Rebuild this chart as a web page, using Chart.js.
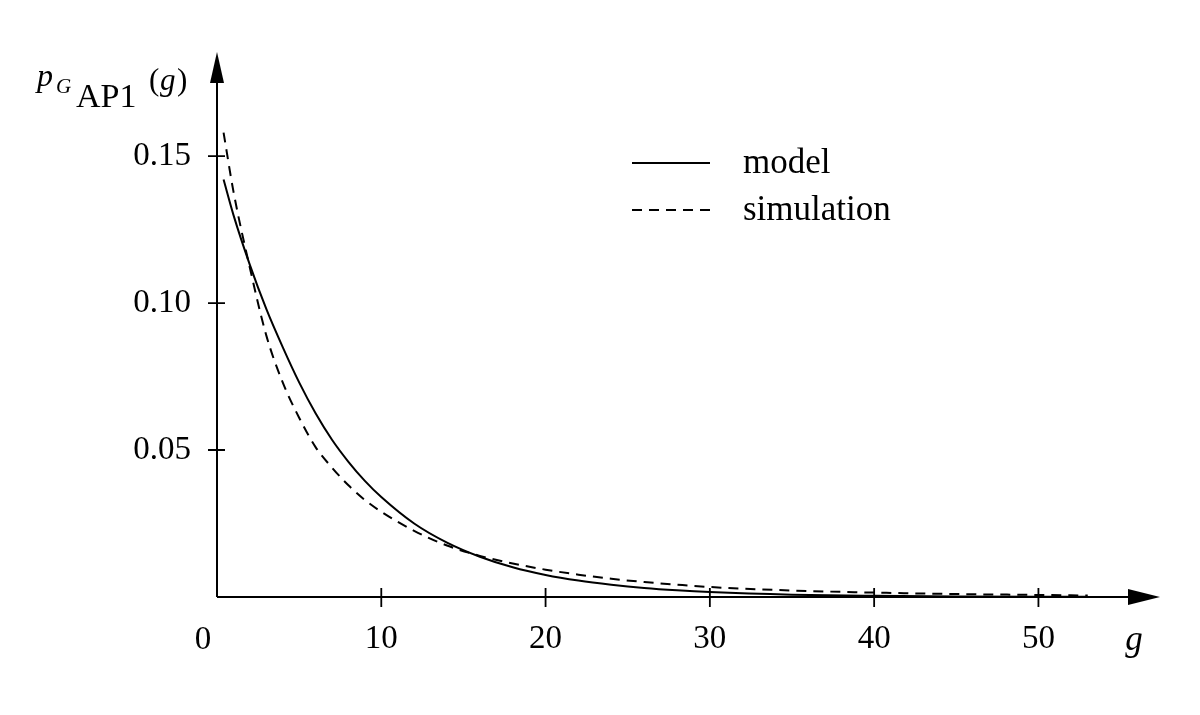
<!DOCTYPE html>
<html>
<head>
<meta charset="utf-8">
<script src="https://cdn.jsdelivr.net/npm/chart.js@4/dist/chart.umd.min.js"></script>
<style>
  html, body { margin: 0; padding: 0; background: #fff; }
  #wrap { width: 1200px; height: 715px; }
</style>
</head>
<body>
<div id="wrap"><canvas id="gapChart"></canvas></div>
<script>
// values
const gValues = [0.4, 1, 2, 3, 4, 5, 6, 7, 8, 9, 10, 12, 14, 16, 18, 20, 22, 24, 26, 28, 30, 35, 40, 45, 50, 53];
const modelValues = [0.142, 0.130, 0.113, 0.098, 0.085, 0.073, 0.0625, 0.0535, 0.046, 0.0395, 0.034, 0.025, 0.0185, 0.0137, 0.0101, 0.0075,
  0.0056, 0.0042, 0.0031, 0.0023, 0.0017, 0.0008, 0.0004, 0.0002, 0.0001, 0.0001];
const simValues = [0.158, 0.138, 0.112, 0.089, 0.073, 0.061, 0.051, 0.044, 0.038, 0.033, 0.029, 0.0225, 0.0175, 0.014, 0.0114, 0.0093,
  0.0076, 0.0062, 0.0051, 0.0042, 0.0034, 0.0022, 0.0015, 0.001, 0.0007, 0.0005];
const seriesNames = ['model', 'simulation'];
const xTickLabels = ['10', '20', '30', '40', '50'];
const yTickLabels = ['0.05', '0.10', '0.15'];

const SERIF = "'Liberation Serif', 'DejaVu Serif', serif";

function toPoints(ys) {
  return gValues.map((g, i) => ({ x: g, y: ys[i] }));
}

// axes with arrows, crossing ticks, legend and the math-style labels
const axesPlugin = {
  id: 'axesPlugin',
  afterDraw(chart) {
    const c = chart.ctx;
    const a = chart.chartArea;
    const xs = chart.scales.x, ys = chart.scales.y;
    const x0 = xs.getPixelForValue(0), y0 = ys.getPixelForValue(0);
    c.save();
    c.strokeStyle = '#000';
    c.fillStyle = '#000';
    c.lineWidth = 2;
    c.setLineDash([]);

    // axis lines
    c.beginPath();
    c.moveTo(x0, y0); c.lineTo(a.right - 30, y0);
    c.moveTo(x0, y0); c.lineTo(x0, a.top + 30);
    c.stroke();
    // arrow heads
    c.beginPath();
    c.moveTo(a.right, y0); c.lineTo(a.right - 32, y0 - 8); c.lineTo(a.right - 32, y0 + 8); c.closePath();
    c.fill();
    c.beginPath();
    c.moveTo(x0, a.top); c.lineTo(x0 - 7, a.top + 31); c.lineTo(x0 + 7, a.top + 31); c.closePath();
    c.fill();

    // crossing tick marks
    c.lineWidth = 1.8;
    c.beginPath();
    xTickLabels.forEach(t => {
      const px = xs.getPixelForValue(parseFloat(t));
      c.moveTo(px, y0 - 9); c.lineTo(px, y0 + 10);
    });
    yTickLabels.forEach(t => {
      const py = ys.getPixelForValue(parseFloat(t));
      c.moveTo(x0 - 9, py); c.lineTo(x0 + 8, py);
    });
    c.stroke();

    // origin label and x-axis name
    c.font = '33px ' + SERIF;
    c.textAlign = 'center';
    c.textBaseline = 'alphabetic';
    c.fillText('0', x0 - 14, 649);
    c.font = 'italic 35px ' + SERIF;
    c.fillText('g', 1134, 650);

    // y-axis name: p_{G_{AP1}}(g)
    c.textAlign = 'left';
    c.font = 'italic 32px ' + SERIF;
    c.fillText('p', 37, 86);
    c.font = 'italic 21px ' + SERIF;
    c.fillText('G', 56, 93);
    c.font = '34px ' + SERIF;
    c.fillText('AP1', 76, 107);
    c.font = '31px ' + SERIF;
    c.fillText('(', 149, 90);
    c.font = 'italic 31px ' + SERIF;
    c.fillText('g', 160, 90);
    c.font = '31px ' + SERIF;
    c.fillText(')', 177, 90);

    // legend
    const legendY = [163, 210];
    chart.data.datasets.forEach((ds, i) => {
      c.lineWidth = 2;
      c.setLineDash(ds.borderDash || []);
      c.beginPath();
      c.moveTo(632, legendY[i]); c.lineTo(710, legendY[i]);
      c.stroke();
      c.setLineDash([]);
      c.font = '35px ' + SERIF;
      c.textAlign = 'left';
      c.textBaseline = 'alphabetic';
      c.fillText(ds.label, 743, legendY[i] + 10);
    });
    c.restore();
  }
};

new Chart(document.getElementById('gapChart'), {
  type: 'scatter',
  data: {
    datasets: [
      {
        label: seriesNames[0],
        data: toPoints(modelValues),
        showLine: true,
        borderColor: '#000',
        borderWidth: 2,
        pointRadius: 0,
        cubicInterpolationMode: 'monotone'
      },
      {
        label: seriesNames[1],
        data: toPoints(simValues),
        showLine: true,
        borderColor: '#000',
        borderWidth: 2,
        borderDash: [10, 7],
        pointRadius: 0,
        cubicInterpolationMode: 'monotone'
      }
    ]
  },
  options: {
    responsive: true,
    maintainAspectRatio: false,
    animation: false,
    layout: { padding: { top: 52, right: 40, left: 0, bottom: 0 } },
    plugins: { legend: { display: false }, tooltip: { enabled: false } },
    scales: {
      x: {
        type: 'linear',
        min: 0,
        max: 57.4,
        grid: { display: false, drawTicks: false },
        border: { display: false },
        afterFit(scale) { scale.height = 118; },
        ticks: {
          stepSize: 10,
          autoSkip: false,
          maxRotation: 0,
          padding: 23,
          color: '#000',
          font: { family: SERIF, size: 33 },
          callback: v => xTickLabels.includes(String(v)) ? String(v) : ''
        }
      },
      y: {
        type: 'linear',
        min: 0,
        max: 0.1854,
        grid: { display: false, drawTicks: false },
        border: { display: false },
        afterFit(scale) { scale.width = 217; },
        ticks: {
          stepSize: 0.05,
          autoSkip: false,
          padding: 26,
          color: '#000',
          font: { family: SERIF, size: 33 },
          callback: v => {
            const s = v.toFixed(2);
            return yTickLabels.includes(s) ? s : '';
          }
        }
      }
    }
  },
  plugins: [axesPlugin]
});
</script>
</body>
</html>
